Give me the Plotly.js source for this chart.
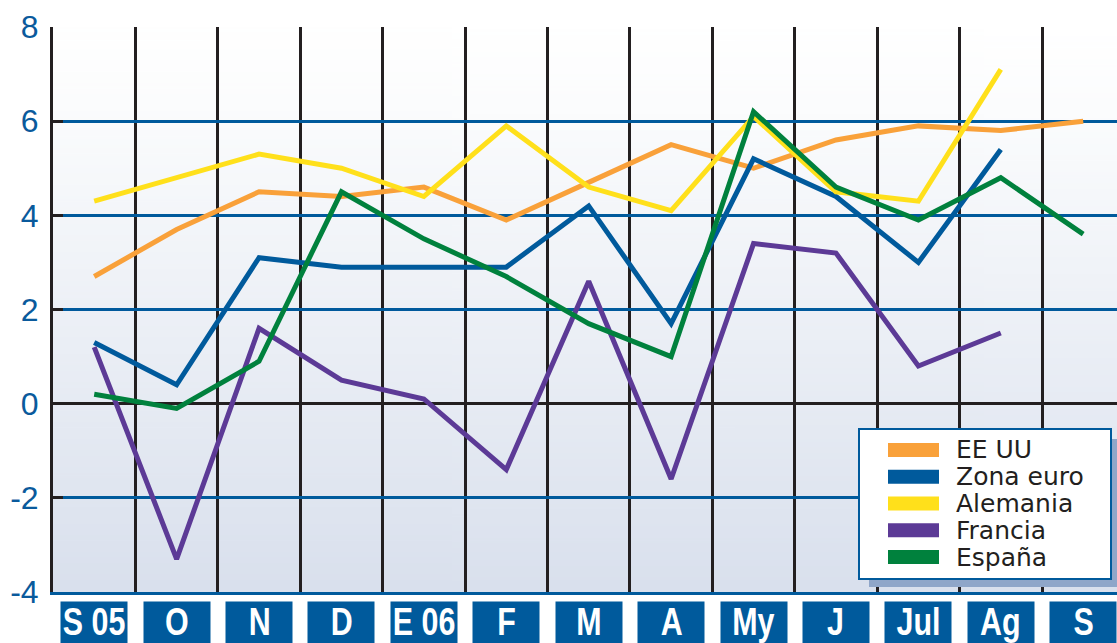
<!DOCTYPE html>
<html>
<head>
<meta charset="utf-8">
<script src="https://cdn.plot.ly/plotly-3.0.1.min.js"></script>
<style>
  html, body { margin: 0; padding: 0; background: #ffffff; }
  #chart { width: 1117px; height: 643px; }
</style>
</head>
<body>
<div id="chart"></div>
<script>
// meses, de septiembre 2005 a septiembre 2006
const meses = ['S 05', 'O', 'N', 'D', 'E 06', 'F', 'M', 'A', 'My', 'J', 'Jul', 'Ag', 'S'];

const eeuu      = [2.7, 3.7, 4.5, 4.4, 4.6, 3.9, 4.7, 5.5, 5.0, 5.6, 5.9, 5.8, 6.0];
const zonaEuro  = [1.3, 0.4, 3.1, 2.9, 2.9, 2.9, 4.2, 1.7, 5.2, 4.4, 3.0, 5.4, null];
const alemania  = [4.3, 4.8, 5.3, 5.0, 4.4, 5.9, 4.6, 4.1, 6.1, 4.5, 4.3, 7.1, null];
const francia   = [1.2, -3.3, 1.6, 0.5, 0.1, -1.4, 2.6, -1.6, 3.4, 3.2, 0.8, 1.5, null];
const espana    = [0.2, -0.1, 0.9, 4.5, 3.5, 2.7, 1.7, 1.0, 6.2, 4.6, 3.9, 4.8, 3.6];

const yTicks  = [-4, -2, 0, 2, 4, 6, 8];
const yLabels = ['-4', '-2', '0', '2', '4', '6', '8'];

const nombres = ['EE UU', 'Zona euro', 'Alemania', 'Francia', 'España'];
const colores = ['#f9a13a', '#005a9c', '#ffe01b', '#5c3a96', '#00813d'];
const series  = [eeuu, zonaEuro, alemania, francia, espana];

// margenes del area de trazado, en pixeles
const M = {l: 53, r: 0, t: 27, b: 51};
const W = 1117, H = 643;
const px = x => (x - M.l) / (W - M.l - M.r);
const py = y => (H - M.b - y) / (H - M.t - M.b);

// fondo degradado del área de trazado
function gradientUrl() {
    const c = document.createElement('canvas');
    c.width = 4; c.height = 400;
    const g = c.getContext('2d');
    const grd = g.createLinearGradient(0, 0, 0, 400);
    grd.addColorStop(0, '#ffffff');
    grd.addColorStop(0.15, '#fbfcfd');
    grd.addColorStop(1, '#d9e0ed');
    g.fillStyle = grd;
    g.fillRect(0, 0, 4, 400);
    return c.toDataURL('image/png');
}

const traces = series.map((ys, i) => ({
    x: meses,
    y: ys,
    type: 'scatter',
    mode: 'lines',
    name: nombres[i],
    line: {color: colores[i], width: 5},
    connectgaps: false
}));

// recuadros azules bajo cada mes
const annotations = meses.map(m => ({
    x: m, xref: 'x',
    y: 0, yref: 'paper', yanchor: 'top', yshift: -9,
    text: '&nbsp;',
    showarrow: false,
    width: 64,
    height: 50,
    bgcolor: '#005a9c'
}));

// texto de los meses (encima de los recuadros)
meses.forEach(m => {
    annotations.push({
        x: m, xref: 'x',
        y: 0, yref: 'paper', yanchor: 'top', yshift: -7,
        text: '<b>' + m + '</b>',
        showarrow: false,
        font: {family: 'Liberation Sans, Arial, sans-serif', size: 38, color: '#ffffff'}
    });
});

// leyenda dibujada a mano (recuadro con sombra)
const shapes = [
    {type: 'rect', xref: 'paper', yref: 'paper',
     x0: px(869), x1: px(1127), y0: py(587), y1: py(439),
     fillcolor: '#8fa6c9', line: {width: 0}, layer: 'above'},
    {type: 'rect', xref: 'paper', yref: 'paper',
     x0: px(859), x1: px(1111), y0: py(579), y1: py(429),
     fillcolor: '#ffffff', line: {color: '#005a9c', width: 2}, layer: 'above'}
];

nombres.forEach((n, i) => {
    const yc = 450 + i * 26.75;
    shapes.push({
        type: 'rect', xref: 'paper', yref: 'paper',
        x0: px(888), x1: px(939), y0: py(yc + 7), y1: py(yc - 7),
        fillcolor: colores[i], line: {width: 0}, layer: 'above'
    });
    annotations.push({
        x: px(954), xref: 'paper', xanchor: 'left',
        y: py(yc), yref: 'paper', yanchor: 'middle',
        text: n,
        showarrow: false,
        font: {family: 'DejaVu Sans, sans-serif', size: 25, color: '#231f20'}
    });
});

const layout = {
    width: W,
    height: H,
    margin: M,
    paper_bgcolor: '#ffffff',
    plot_bgcolor: 'rgba(0,0,0,0)',
    showlegend: false,
    xaxis: {
        type: 'category',
        range: [-0.5, 12.41],
        tickson: 'boundaries',
        showgrid: true,
        gridcolor: '#231f20',
        gridwidth: 3,
        showticklabels: false,
        ticks: '',
        showline: true,
        linecolor: '#005a9c',
        linewidth: 3,
        zeroline: false,
        fixedrange: true
    },
    yaxis: {
        range: [-4, 8],
        tickvals: yTicks,
        ticktext: yLabels,
        showgrid: true,
        gridcolor: '#005a9c',
        gridwidth: 3,
        zeroline: true,
        zerolinecolor: '#231f20',
        zerolinewidth: 3,
        showline: true,
        linecolor: '#231f20',
        linewidth: 3,
        ticks: 'inside',
        ticklen: 10,
        tickwidth: 3,
        tickcolor: '#231f20',
        ticklabelstandoff: 5,
        tickfont: {family: 'Liberation Sans, Arial, sans-serif', size: 32, color: '#0a5a9c'},
        fixedrange: true
    },
    images: [{
        source: gradientUrl(),
        xref: 'paper',
        yref: 'paper',
        x: 0,
        y: 1,
        sizex: 1,
        sizey: 1,
        sizing: 'stretch',
        layer: 'below'
    }],
    shapes: shapes,
    annotations: annotations
};

Plotly.newPlot('chart', traces, layout, {displayModeBar: false, staticPlot: true}).then(gd => {
    // letra condensada para los meses
    meses.forEach((m, i) => {
        const t = gd.querySelector('.annotation[data-index="' + (meses.length + i) + '"] .annotation-text');
        if (t) {
            t.style.transformBox = 'fill-box';
            t.style.transformOrigin = 'center';
            t.style.transform = 'scaleX(0.8)';
        }
    });
});
</script>
</body>
</html>
